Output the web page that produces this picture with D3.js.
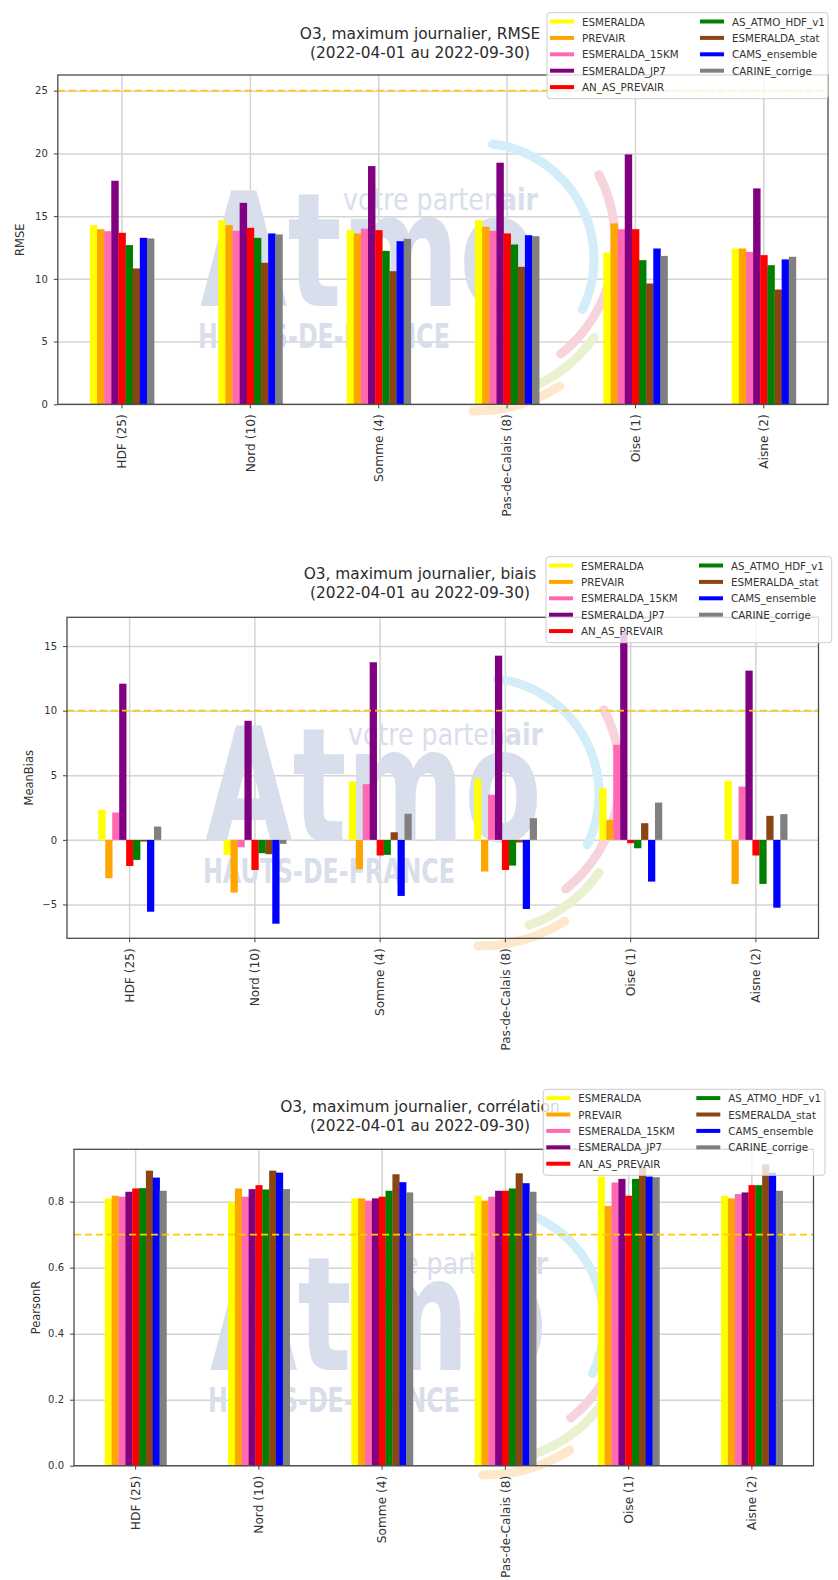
<!DOCTYPE html>
<html>
<head>
<meta charset="utf-8">
<script src="https://cdn.jsdelivr.net/npm/d3@7"></script>
<style>
  body { margin: 0; background: #fff; }
  text { font-family: "DejaVu Sans", sans-serif; }
</style>
</head>
<body>
<svg id="chart" width="838" height="1580"></svg>
<script>
// data
var regions = ["HDF (25)", "Nord (10)", "Somme (4)", "Pas-de-Calais (8)", "Oise (1)", "Aisne (2)"];
var models = ["ESMERALDA", "PREVAIR", "ESMERALDA_15KM", "ESMERALDA_JP7", "AN_AS_PREVAIR",
  "AS_ATMO_HDF_v1", "ESMERALDA_stat", "CAMS_ensemble", "CARINE_corrige"];
var modelColors = ["#ffff00", "#ffa500", "#ff69b4", "#800080", "#ff0000",
  "#008000", "#8b4513", "#0000ff", "#808080"];

// one row per region, one column per model
var rmseValues = [
  [14.28, 13.96, 13.80, 17.82, 13.67, 12.69, 10.83, 13.27, 13.22],
  [14.68, 14.28, 13.83, 16.06, 14.07, 13.27, 11.28, 13.62, 13.54],
  [13.88, 13.62, 14.01, 18.99, 13.88, 12.23, 10.61, 13.00, 13.19],
  [14.68, 14.15, 13.83, 19.26, 13.62, 12.74, 10.96, 13.48, 13.40],
  [12.10, 14.42, 13.96, 19.92, 13.96, 11.49, 9.63, 12.42, 11.83],
  [12.42, 12.42, 12.15, 17.21, 11.89, 11.09, 9.15, 11.55, 11.76]
];
var biasValues = [
  [2.33, -2.97, 2.12, 12.09, -2.02, -1.55, -0.13, -5.56, 1.03],
  [-1.16, -4.08, -0.57, 9.22, -2.33, -1.03, -1.11, -6.49, -0.31],
  [4.52, -2.27, 4.31, 13.75, -1.21, -1.16, 0.59, -4.34, 2.02],
  [4.73, -2.45, 3.49, 14.26, -2.33, -1.99, -0.20, -5.35, 1.68],
  [4.00, 1.55, 7.36, 16.10, -0.26, -0.65, 1.29, -3.23, 2.89],
  [4.57, -3.41, 4.13, 13.10, -1.21, -3.41, 1.86, -5.25, 1.99]
];
var pearsonValues = [
  [0.810, 0.818, 0.815, 0.830, 0.840, 0.841, 0.894, 0.873, 0.833],
  [0.798, 0.840, 0.815, 0.838, 0.850, 0.837, 0.894, 0.888, 0.838],
  [0.810, 0.810, 0.803, 0.810, 0.815, 0.833, 0.883, 0.859, 0.828],
  [0.818, 0.803, 0.815, 0.833, 0.833, 0.840, 0.886, 0.856, 0.830],
  [0.876, 0.787, 0.858, 0.869, 0.818, 0.869, 0.906, 0.876, 0.874],
  [0.818, 0.810, 0.823, 0.828, 0.850, 0.850, 0.913, 0.888, 0.833]
];

var rmseTicks = [0, 5, 10, 15, 20, 25];
var biasTicks = [-5, 0, 5, 10, 15];
var pearsonTicks = [0, 0.2, 0.4, 0.6, 0.8];

var rmseLimit = 25;
var biasLimit = 10;
var pearsonLimit = 0.7;

var period = "(2022-04-01 au 2022-09-30)";

var svg = d3.select("#chart");

var panels = [
  { title: "O3, maximum journalier, RMSE", label: "RMSE", values: rmseValues, ticks: rmseTicks,
    fmt: d3.format("d"), limit: rmseLimit,
    left: 57.8, right: 828, top: 75, bottom: 404.3, titleY: 33.5,
    legend: { x: 547, y: 12.7, w: 281 }, mark: { x: 474, y: 251 } },
  { title: "O3, maximum journalier, biais", label: "MeanBias", values: biasValues, ticks: biasTicks,
    fmt: d3.format("d"), limit: biasLimit,
    left: 67, right: 818.5, top: 617.3, bottom: 938.3, titleY: 573.5,
    legend: { x: 546, y: 556.7, w: 285.7 }, mark: { x: 479, y: 786 } },
  { title: "O3, maximum journalier, corrélation", label: "PearsonR", values: pearsonValues, ticks: pearsonTicks,
    fmt: d3.format(".1f"), limit: pearsonLimit,
    left: 74, right: 813.5, top: 1149.3, bottom: 1465.7, titleY: 1106.7,
    legend: { x: 543.3, y: 1089.3, w: 281.7 }, mark: { x: 484, y: 1315 } }
];

// faint "Atmo" logo behind the bars
function drawWatermark(g, m) {
  var wm = g.append("g").attr("transform", `translate(${m.x},${m.y})`);
  var arcs = [
    { r: 116, cx: 4, cy: 8, a0: 5, a1: 118, c: "#d3eef8" },
    { r: 145, cx: -4, cy: -10, a0: 61, a1: 143, c: "#f7d3dc" },
    { r: 148, cx: 0, cy: 0, a0: 124, a1: 162, c: "#e9f1d0" },
    { r: 160, cx: 0, cy: 0, a0: 146, a1: 182, c: "#fde8cc" }
  ];
  arcs.forEach(function(a) {
    wm.append("path")
      .attr("transform", `translate(${a.cx},${a.cy})`)
      .attr("d", d3.arc()
        .innerRadius(a.r - 4.5).outerRadius(a.r + 4.5)
        .startAngle(a.a0 * Math.PI / 180).endAngle(a.a1 * Math.PI / 180)
        .cornerRadius(4.5)())
      .attr("fill", a.c);
  });
  wm.append("text")
    .attr("x", -274).attr("y", 55)
    .attr("font-size", 159).attr("font-weight", "bold")
    .attr("textLength", 337).attr("lengthAdjust", "spacingAndGlyphs")
    .attr("fill", "#d8deeb")
    .text("Atmo");
  var vt = wm.append("text")
    .attr("x", -131).attr("y", -41)
    .attr("font-size", 30)
    .attr("textLength", 195).attr("lengthAdjust", "spacingAndGlyphs")
    .attr("fill", "#d8deeb");
  vt.append("tspan").text("votre parten");
  vt.append("tspan").attr("font-weight", "bold").text("air");
  wm.append("text")
    .attr("x", -276).attr("y", 97)
    .attr("font-size", 34).attr("font-weight", "bold")
    .attr("textLength", 252).attr("lengthAdjust", "spacingAndGlyphs")
    .attr("fill", "#d8deeb")
    .text("HAUTS-DE-FRANCE");
}

function drawPanel(p) {
  var g = svg.append("g");

  // matplotlib-like autoscale: 5% margin, bars stick to zero
  var all = d3.merge(p.values).concat([p.limit, 0]);
  var lo = d3.min(all), hi = d3.max(all);
  var span = hi - lo;
  var yMin = lo < 0 ? lo - span * 0.05 : 0;
  var yMax = hi + span * 0.05;

  var x = d3.scaleBand()
    .domain(regions)
    .range([p.left, p.right])
    .paddingInner(0.5)
    .paddingOuter(0.25);
  var xSub = d3.scaleBand()
    .domain(models)
    .range([0, x.bandwidth()]);
  var y = d3.scaleLinear()
    .domain([yMin, yMax])
    .range([p.bottom, p.top]);

  var width = p.right - p.left;
  var height = p.bottom - p.top;

  // grid
  g.append("g")
    .attr("transform", `translate(${p.left},0)`)
    .call(d3.axisLeft(y).tickValues(p.ticks).tickSize(-width).tickFormat(""))
    .call(s => s.select(".domain").remove())
    .selectAll("line").attr("stroke", "#d4d4d4").attr("stroke-width", 1.5);
  g.append("g")
    .attr("transform", `translate(0,${p.top})`)
    .call(d3.axisBottom(x).tickSize(height).tickFormat(""))
    .call(s => s.select(".domain").remove())
    .selectAll("line").attr("stroke", "#d4d4d4").attr("stroke-width", 1.5);

  drawWatermark(g, p.mark);

  // bars
  var groups = g.selectAll(".region")
    .data(p.values)
    .enter()
    .append("g")
    .attr("transform", (d, i) => `translate(${x(regions[i])},0)`);
  groups.selectAll("rect")
    .data(d => d)
    .enter()
    .append("rect")
    .attr("x", (d, j) => xSub(models[j]))
    .attr("width", xSub.bandwidth() + 0.3)
    .attr("y", d => y(Math.max(0, d)))
    .attr("height", d => Math.abs(y(d) - y(0)))
    .attr("fill", (d, j) => modelColors[j]);

  // threshold
  g.append("line")
    .attr("x1", p.left).attr("x2", p.right)
    .attr("y1", y(p.limit)).attr("y2", y(p.limit))
    .attr("stroke", "#ffcc00")
    .attr("stroke-width", 1.8)
    .attr("stroke-dasharray", "7,4");

  // frame
  g.append("rect")
    .attr("x", p.left).attr("y", p.top)
    .attr("width", width).attr("height", height)
    .attr("fill", "none")
    .attr("stroke", "#4a4a4a")
    .attr("stroke-width", 1.3);

  // axes
  var yAxis = g.append("g")
    .attr("transform", `translate(${p.left},0)`)
    .call(d3.axisLeft(y).tickValues(p.ticks).tickFormat(p.fmt).tickSize(4).tickPadding(6));
  yAxis.select(".domain").remove();
  yAxis.selectAll("line").attr("stroke", "#444");
  yAxis.selectAll("text")
    .attr("font-size", 10)
    .attr("fill", "#333")
    .style("font-family", "DejaVu Sans");

  var xAxis = g.append("g")
    .attr("transform", `translate(0,${p.bottom})`)
    .call(d3.axisBottom(x).tickSize(4));
  xAxis.select(".domain").remove();
  xAxis.selectAll("line").attr("stroke", "#444");
  xAxis.selectAll("text")
    .attr("transform", "rotate(-90)")
    .attr("x", -10)
    .attr("y", 0)
    .attr("dy", "0.35em")
    .attr("text-anchor", "end")
    .attr("font-size", 12.2)
    .attr("fill", "#333")
    .style("font-family", "DejaVu Sans");

  g.append("text")
    .attr("transform", `translate(${p.left - 38},${(p.top + p.bottom) / 2})rotate(-90)`)
    .attr("text-anchor", "middle")
    .attr("dominant-baseline", "central")
    .attr("font-size", 11.5)
    .attr("fill", "#333")
    .text(p.label);

  // title
  g.append("text")
    .attr("x", 420).attr("y", p.titleY)
    .attr("text-anchor", "middle")
    .attr("dominant-baseline", "central")
    .attr("font-size", 15.4)
    .attr("fill", "#2b2b2b")
    .text(p.title);
  g.append("text")
    .attr("x", 420).attr("y", p.titleY + 19)
    .attr("text-anchor", "middle")
    .attr("dominant-baseline", "central")
    .attr("font-size", 15.4)
    .attr("fill", "#2b2b2b")
    .text(period);

  // legend, two columns (5 + 4)
  var lg = g.append("g").attr("transform", `translate(${p.legend.x},${p.legend.y})`);
  lg.append("rect")
    .attr("width", p.legend.w).attr("height", 86)
    .attr("rx", 3)
    .attr("fill", "#fff").attr("fill-opacity", 0.8)
    .attr("stroke", "#cccccc");
  var items = lg.selectAll(".item")
    .data(models)
    .enter()
    .append("g")
    .attr("transform", (d, i) => `translate(${i < 5 ? 3 : 153},${8.8 + (i < 5 ? i : i - 5) * 16.4})`);
  items.append("line")
    .attr("x1", 0).attr("x2", 24)
    .attr("stroke", (d, i) => modelColors[i])
    .attr("stroke-width", 4);
  items.append("text")
    .attr("x", 32)
    .attr("dominant-baseline", "central")
    .attr("font-size", 10.3)
    .attr("fill", "#333")
    .text(d => d);
}

panels.forEach(drawPanel);
</script>
</body>
</html>
